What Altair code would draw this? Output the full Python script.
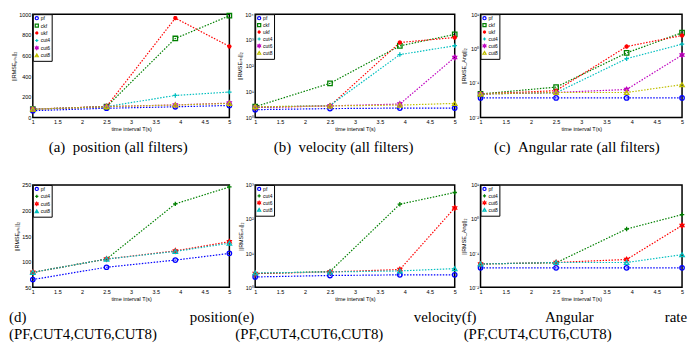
import altair as alt
import pandas as pd

T = [1, 2.5, 3.9, 5]

FILTERS_ALL = ["pf", "ckf", "ukf", "cut4", "cut6", "cut8"]
FILTERS_SUB = ["pf", "cut4", "cut6", "cut8"]

# position ||RMSE_pos||_2
pos = {
    "pf":   [65, 89, 103, 116],
    "ckf":  [80, 104, 765, 985],
    "ukf":  [80, 106, 962, 688],
    "cut4": [79, 105, 213, 246],
    "cut6": [79, 105, 121, 139],
    "cut8": [79, 105, 120, 136],
}
# velocity ||RMSE_vel||_2
vel = {
    "pf":   [2.0, 2.2, 2.3, 2.3],
    "ckf":  [2.6, 21, 590, 1650],
    "ukf":  [2.4, 2.8, 800, 1250],
    "cut4": [2.5, 2.9, 272, 600],
    "cut6": [2.5, 2.8, 3.3, 212],
    "cut8": [2.6, 2.8, 3.0, 3.5],
}
# angular rate ||RMSE_Ang||_2
ang = {
    "pf":   [0.037, 0.037, 0.037, 0.037],
    "ckf":  [0.048, 0.076, 0.75, 2.9],
    "ukf":  [0.048, 0.060, 1.15, 2.4],
    "cut4": [0.048, 0.052, 0.51, 1.35],
    "cut6": [0.048, 0.053, 0.065, 0.65],
    "cut8": [0.048, 0.053, 0.053, 0.09],
}

COLORS = ["#0000ff", "#008000", "#ff0000", "#00bfbf", "#bf00bf", "#bfbf00"]
SHAPES = {
    "pf": "circle",
    "ckf": "square",
    "ukf": "M-1,0L1,0M0,-1L0,1M-0.7,-0.7L0.7,0.7M-0.7,0.7L0.7,-0.7",
    "cut4": "M-1,0L1,0M0,-1L0,1",
    "cut6": "M0,-1L0.866,0.5L-0.866,0.5Z M0,1L-0.866,-0.5L0.866,-0.5Z",
    "cut8": "triangle-up",
}

X_TICKS = [1, 1.5, 2, 2.5, 3, 3.5, 4, 4.5, 5]
SUP = {"-": "\u207b", "0": "\u2070", "1": "\u00b9", "2": "\u00b2", "3": "\u00b3", "4": "\u2074"}

CAPTIONS_TOP = ["(a)\u00a0\u00a0position (all filters)",
                "(b)\u00a0\u00a0velocity (all filters)",
                "(c)\u00a0\u00a0Angular rate (all filters)"]


def log_expr(exps):
    expr = "''"
    for e in reversed(exps):
        lab = "10" + "".join(SUP[c] for c in str(e))
        expr = f"datum.value < {10 ** (e + 0.5)} ? '{lab}' : " + expr
    return expr


def panel(values, filters, ytitle, width, height, log_exps=None, lin_ticks=None,
          caption=None, cap_x=0, cap_y=0, extra_texts=None, row_pad=-2.5):
    rows = []
    for f in filters:
        for t, v in zip(T, values[f]):
            rows.append({"T": t, "filter": f, "v": v})
    df = pd.DataFrame(rows)
    if log_exps is not None:
        yscale = alt.Scale(type="log", domain=[10 ** log_exps[0], 10 ** log_exps[-1]], nice=False)
        yaxis = alt.Axis(title=ytitle, values=[10 ** e for e in log_exps], labelExpr=log_expr(log_exps))
    else:
        yscale = alt.Scale(domain=[lin_ticks[0], lin_ticks[-1]], nice=False)
        yaxis = alt.Axis(title=ytitle, values=lin_ticks, format="d")
    legend = alt.Legend(title=None, orient="top-left", offset=0, padding=1.5,
                        strokeColor="black", fillColor="white", labelFontSize=5,
                        labelFont="Liberation Sans", symbolSize=10, rowPadding=row_pad,
                        symbolStrokeWidth=1.2, labelOffset=1.5, columnPadding=0)
    color = alt.Color("filter:N", sort=filters,
                      scale=alt.Scale(domain=filters, range=COLORS[:len(filters)]),
                      legend=legend)
    shape = alt.Shape("filter:N", sort=filters,
                      scale=alt.Scale(domain=filters, range=[SHAPES[f] for f in filters]),
                      legend=legend)
    base = alt.Chart(df).encode(
        x=alt.X("T:Q", scale=alt.Scale(domain=[1, 5], nice=False),
                axis=alt.Axis(title="time interval T(s)", values=X_TICKS, format="~g")),
        y=alt.Y("v:Q", scale=yscale, axis=yaxis),
        color=color,
    )
    lines = base.mark_line(strokeDash=[1.5, 1.5], strokeWidth=1.2)
    pts = base.mark_point(filled=False, size=20, strokeWidth=1.3, opacity=1).encode(shape=shape)
    layers = [lines, pts]
    if caption is not None:
        layers.append(alt.Chart(pd.DataFrame({"t": [caption]})).mark_text(
            font="Liberation Serif", fontSize=15, align="center", baseline="middle", color="black"
        ).encode(text="t:N", x=alt.value(cap_x), y=alt.value(cap_y)))
    if extra_texts:
        for txt, tx, ty, al in extra_texts:
            layers.append(alt.Chart(pd.DataFrame({"t": [txt]})).mark_text(
                font="Liberation Serif", fontSize=15, align=al, baseline="middle", color="black"
            ).encode(text="t:N", x=alt.value(tx), y=alt.value(ty)))
    return alt.layer(*layers).properties(width=width, height=height)


# bottom-row caption words (relative to panel (d) origin)
ROW2_TEXT = [
    ("(d)", -24, 133, "left"),
    ("position(e)", 223, 133, "right"),
    ("velocity(f)", 447, 133, "right"),
    ("Angular", 516, 133, "left"),
    ("rate", 659, 133, "right"),
    ("(PF,CUT4,CUT6,CUT8)", -24, 150, "left"),
    ("(PF,CUT4,CUT6,CUT8)", 204, 150, "left"),
    ("(PF,CUT4,CUT6,CUT8)", 434, 150, "left"),
]

YT_POS = "||RMSE\u209a\u2092\u209b||\u2082"
YT_VEL = "||RMSE\u1d65\u2091\u2097||\u2082"
YT_ANG = "||RMSE_Ang||\u2082"

a = panel(pos, FILTERS_ALL, YT_POS, 198, 104, lin_ticks=[0, 200, 400, 600, 800, 1000],
          caption=CAPTIONS_TOP[0], cap_x=86, cap_y=134, row_pad=-1.5)
b = panel(vel, FILTERS_ALL, YT_VEL, 201, 104, log_exps=[0, 1, 2, 3, 4],
          caption=CAPTIONS_TOP[1], cap_x=89, cap_y=134, row_pad=-2.5)
c = panel(ang, FILTERS_ALL, YT_ANG, 203, 104, log_exps=[-2, -1, 0, 1],
          caption=CAPTIONS_TOP[2], cap_x=97, cap_y=134, row_pad=-2.5)
d = panel(pos, FILTERS_SUB, YT_POS, 198, 103, lin_ticks=[50, 100, 150, 200, 250],
          extra_texts=ROW2_TEXT, row_pad=-1.5)
e = panel(vel, FILTERS_SUB, YT_VEL, 201, 103, log_exps=[0, 1, 2, 3], row_pad=-2.5)
f = panel(ang, FILTERS_SUB, YT_ANG, 203, 103, log_exps=[-2, -1, 0, 1], row_pad=-3)

chart = alt.concat(
    a, b, c, d, e, f, columns=3, spacing={"row": 68, "column": 26}, bounds="flush"
).properties(padding=0).resolve_scale(
    color="independent", shape="independent"
).configure_view(
    stroke="black", strokeWidth=1.5
).configure_axis(
    labelFont="Liberation Sans", labelFontSize=5.5, labelColor="black",
    titleFont="Liberation Sans", titleFontSize=5.5, titleFontWeight="normal", titleColor="black",
    grid=False, ticks=False, domain=False, labelPadding=2, titlePadding=2,
    labelFlush=False, labelOverlap=False,
)

chart.save("out.html", embed_options={"renderer": "svg", "actions": False})
